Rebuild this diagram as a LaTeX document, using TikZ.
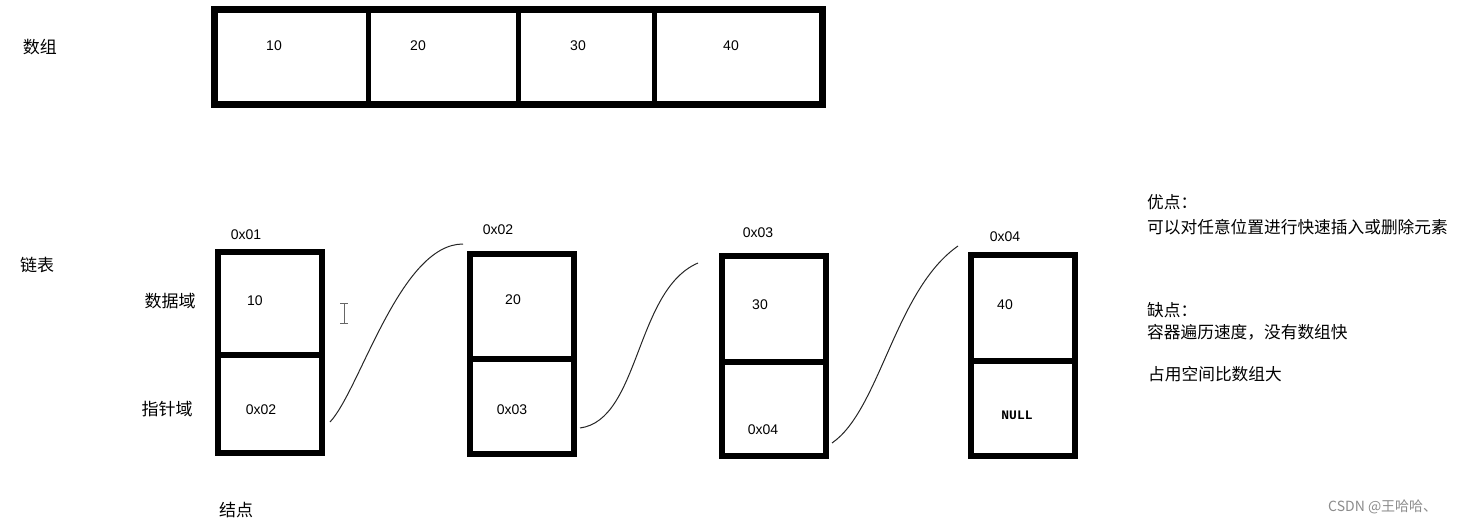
\documentclass[tikz,border=0pt]{standalone}
\usepackage{fontspec}
\setmainfont{Noto Sans CJK SC}
\newfontfamily\numfont{Liberation Sans}
\newfontfamily\monofont{Liberation Mono}
\begin{document}
\begin{tikzpicture}[x=1pt,y=-1pt,
  cell/.style={draw=black,line width=6pt,inner sep=0pt,minimum width=104pt,minimum height=200pt},
  arr/.style={draw=black,line width=7pt,inner sep=0pt},
  divider/.style={line width=5pt,line cap=round},
  hdiv/.style={line width=6pt},
  wire/.style={line width=1pt,black!85},
  cn/.style={font=\fontsize{17}{20}\selectfont,inner sep=0pt},
  nm/.style={font=\numfont\fontsize{14}{16}\selectfont,inner sep=0pt},
  rt/.style={font=\fontsize{16.7}{19}\selectfont,inner sep=0pt,anchor=west}]
\useasboundingbox (0,0) rectangle (1468,525);
\fill[white] (0,0) rectangle (1468,525);
% array
\node[arr,minimum width=608pt,minimum height=95pt] (arrbox) at (518.5,57) {};
\draw[divider] (368,13) -- (368,103);
\draw[divider] (518,13) -- (518,100);
\draw[line width=5pt] (654,9.5) -- (654,104.5);
\node[nm] (a1) at (274,46) {10};
\node[nm] (a2) at (418,46) {20};
\node[nm] (a3) at (578,46) {30};
\node[nm] (a4) at (731,46) {40};
\node[cn] (lblarr) at (40,47) {数组};
% linked list
\node[cn] (lblll) at (37,265) {链表};
\node[cn] (lbldata) at (170,301) {数据域};
\node[cn] (lblptr) at (167,409) {指针域};
\node[cn] (lblnode) at (236,510) {结点};

\node[cell,minimum height=201pt] (n1) at (270,352.5) {};
\draw[hdiv] (n1.west |- 0,355) -- (n1.east |- 0,355);
\node[cell] (n2) at (522,354) {};
\draw[hdiv] (n2.west |- 0,359) -- (n2.east |- 0,359);
\node[cell] (n3) at (774,356) {};
\draw[hdiv] (n3.west |- 0,362) -- (n3.east |- 0,362);
\node[cell,minimum height=201pt] (n4) at (1023,355.5) {};
\draw[hdiv] (n4.west |- 0,361) -- (n4.east |- 0,361);

\node[nm] (ad1) at (246,235) {0x01};
\node[nm] (ad2) at (498,230) {0x02};
\node[nm] (ad3) at (758,233) {0x03};
\node[nm] (ad4) at (1005,237) {0x04};

\node[nm] (v1) at (255,301) {10};
\node[nm] (v2) at (513,300) {20};
\node[nm] (v3) at (760,305) {30};
\node[nm] (v4) at (1005,305) {40};

\node[nm] (p1) at (261,410) {0x02};
\node[nm] (p2) at (512,410) {0x03};
\node[nm] (p3) at (763,430) {0x04};
\node[font=\monofont\bfseries\fontsize{13}{15}\selectfont,inner sep=0pt] (p4) at (1017,415) {NULL};

% connectors
\coordinate (s1) at (330,422);
\coordinate (e1) at (463,244);
\coordinate (s2) at (580,428);
\coordinate (e2) at (698,263);
\coordinate (s3) at (832,443);
\coordinate (e3) at (958,246);
\draw[wire] (s1) .. controls (360,390) and (400,244) .. (e1);
\draw[wire] (s2) .. controls (640,420) and (635,290) .. (e2);
\draw[wire] (s3) .. controls (880,410) and (895,290) .. (e3);

% cursor
\draw[black!60,line width=1pt] (344,303) -- (344,323) (340,303) -- (348,303) (340,323) -- (348,323);

% right text
\node[rt] (pro) at (1147,202) {优点：};
\node[rt] (prot) at (1147,227) {可以对任意位置进行快速插入或删除元素};
\node[rt] (con) at (1147,310) {缺点：};
\node[rt] (cont) at (1147,332) {容器遍历速度，没有数组快};
\node[rt] (con2) at (1148,374) {占用空间比数组大};

\node[font=\fontsize{14}{16}\selectfont,text=black!45,inner sep=0pt,anchor=west] (wm) at (1328,507) {CSDN @王哈哈、};
\end{tikzpicture}
\end{document}
